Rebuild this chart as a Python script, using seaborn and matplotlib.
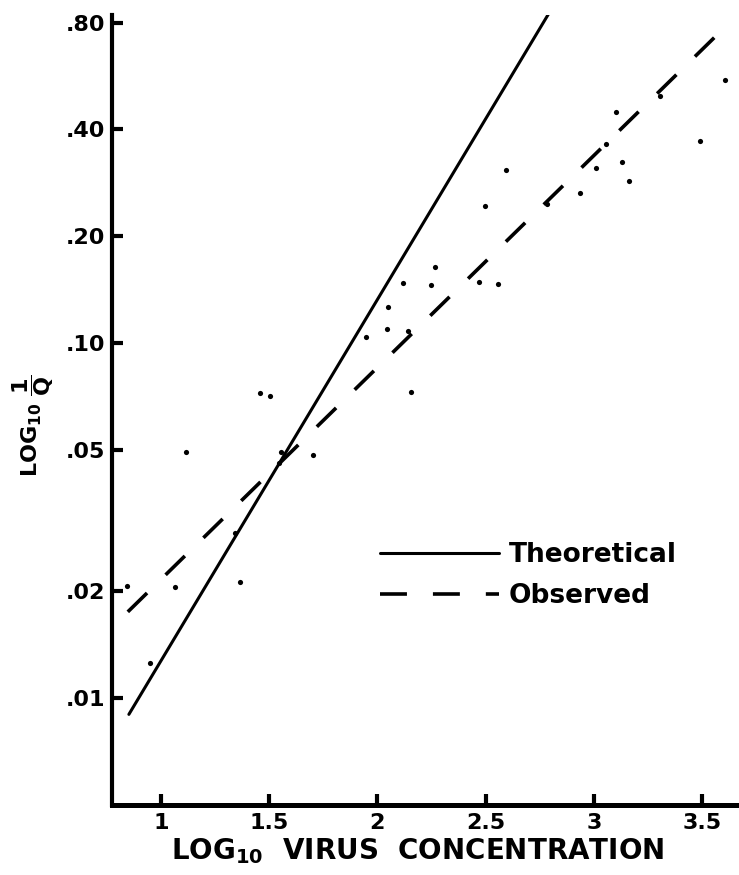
import numpy as np
import pandas as pd
import matplotlib
matplotlib.use("Agg")
import matplotlib.pyplot as plt
from matplotlib.ticker import NullLocator, FixedLocator, FixedFormatter
import seaborn as sns

# Measured points: log10 virus concentration vs 1/Q (log axis)
conc_log = [0.843, 0.949, 1.065, 1.116, 1.342, 1.365, 1.457, 1.504, 1.555, 1.545,
            1.702, 1.947, 2.044, 2.049, 2.141, 2.155, 2.118, 2.248, 2.266, 2.470,
            2.557, 2.497, 2.594, 2.784, 2.936, 3.010, 3.056, 3.130, 3.163, 3.103,
            3.306, 3.491, 3.606]
inv_q = [0.0207, 0.0126, 0.0205, 0.0493, 0.0292, 0.0212, 0.0723, 0.0709, 0.0493, 0.0459,
         0.0484, 0.104, 0.1095, 0.1263, 0.108, 0.0728, 0.1476, 0.1457, 0.1637, 0.1485,
         0.1466, 0.243, 0.307, 0.246, 0.2645, 0.311, 0.364, 0.324, 0.286, 0.4475,
         0.496, 0.371, 0.551]

# Fitted lines (end points)
theo_x = [0.852, 2.793]
theo_y = [0.0090, 0.85]
obs_x = [0.847, 3.583]
obs_y = [0.0175, 0.752]

series_names = ["Theoretical", "Observed"]

ytick_vals = [0.01, 0.02, 0.05, 0.10, 0.20, 0.40, 0.80]
ytick_text = [".01", ".02", ".05", ".10", ".20", ".40", ".80"]
xtick_vals = [1, 1.5, 2, 2.5, 3, 3.5]
xtick_text = ["1", "1.5", "2", "2.5", "3", "3.5"]

sns.set_style("white")
plt.rcParams["font.family"] = ["DejaVu Sans"]
plt.rcParams["font.weight"] = "bold"
plt.rcParams["mathtext.fontset"] = "dejavusans"
plt.rcParams["mathtext.default"] = "bf"
plt.rcParams["lines.scale_dashes"] = False
plt.rcParams["text.color"] = "black"
plt.rcParams["axes.labelcolor"] = "black"
plt.rcParams["xtick.color"] = "black"
plt.rcParams["ytick.color"] = "black"

fig = plt.figure(figsize=(7.39, 8.75), dpi=100)
ax = fig.add_axes([112 / 739, 70 / 875, 627 / 739, 790 / 875])

points = pd.DataFrame({"x": conc_log, "y": inv_q})
sns.scatterplot(data=points, x="x", y="y", ax=ax, color="black", s=14,
                linewidth=0, zorder=3)

sns.lineplot(x=theo_x, y=theo_y, ax=ax, color="black", linewidth=2.2,
             label=series_names[0])
sns.lineplot(x=obs_x, y=obs_y, ax=ax, color="black", linewidth=2.6,
             label=series_names[1])
ax.lines[-1].set_dashes([19.4, 18.7])

ax.set_yscale("log")
ax.set_xlim(0.774, 3.671)
ax.set_ylim(0.005, 0.84)

ax.yaxis.set_major_locator(FixedLocator(ytick_vals))
ax.yaxis.set_major_formatter(FixedFormatter(ytick_text))
ax.yaxis.set_minor_locator(NullLocator())
ax.set_xticks(xtick_vals)
ax.set_xticklabels(xtick_text)

for side in ["top", "right"]:
    ax.spines[side].set_visible(False)
ax.spines["left"].set_linewidth(3.0)
ax.spines["bottom"].set_linewidth(3.6)
for side in ["left", "bottom"]:
    ax.spines[side].set_color("black")

ax.tick_params(axis="y", left=True, direction="in", length=8, width=3,
               color="black", labelcolor="black", labelsize=16, pad=5)
ax.tick_params(axis="x", bottom=True, direction="in", length=8, width=3,
               color="black", labelcolor="black", labelsize=16, pad=6)
for lab in ax.get_xticklabels() + ax.get_yticklabels():
    lab.set_fontweight("bold")

ax.set_xlabel(r"LOG$_{10}$  VIRUS  CONCENTRATION", fontsize=20,
              fontweight="bold", color="black")
ax.xaxis.set_label_coords(0.488, -0.040)
ax.set_ylabel(r"LOG$_{10}$ $\dfrac{1}{Q}$", fontsize=16, fontweight="bold",
              color="black")
ax.yaxis.set_label_coords(-0.090, 0.48)

leg = ax.legend(loc="center left", bbox_to_anchor=(0.4274, 0.2905),
                frameon=False, fontsize=19, handlelength=4.5,
                handletextpad=0.38, labelspacing=0.55, borderpad=0,
                borderaxespad=0)
for t in leg.get_texts():
    t.set_fontweight("bold")
    t.set_color("black")

fig.savefig("out.png", dpi=100, facecolor="white")
